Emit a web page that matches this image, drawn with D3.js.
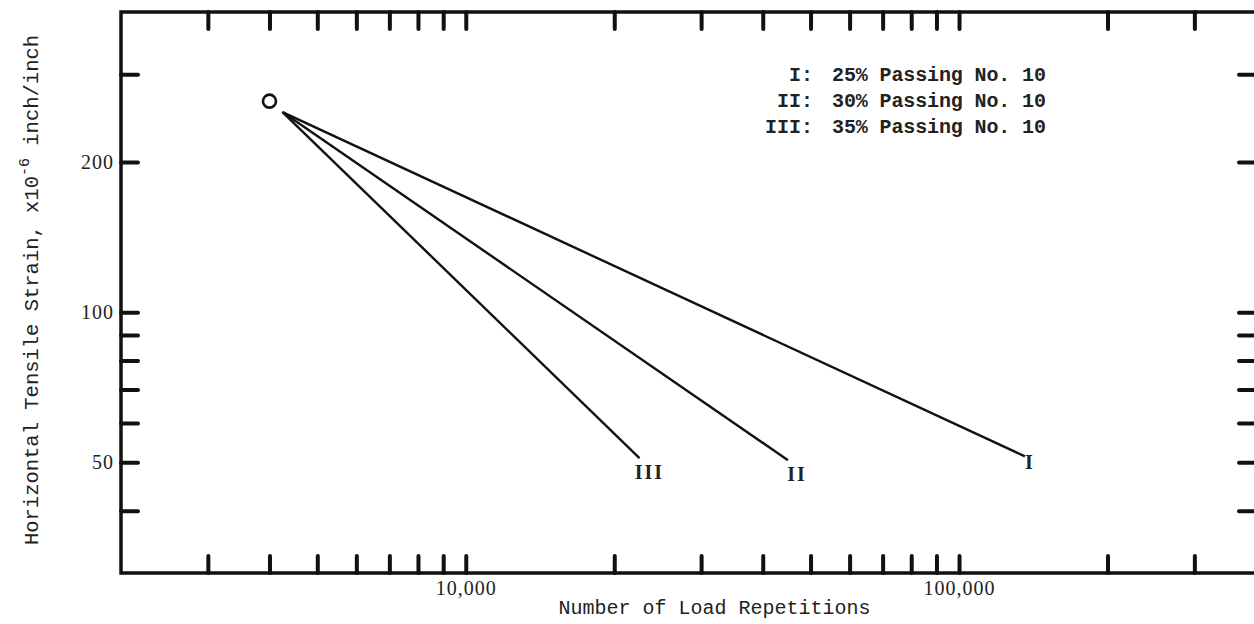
<!DOCTYPE html>
<html>
<head>
<meta charset="utf-8">
<script src="https://cdn.jsdelivr.net/npm/d3@7"></script>
<style>
  html, body { margin: 0; padding: 0; background: #fff; }
  svg { display: block; }
</style>
</head>
<body>
<svg id="chart" width="1254" height="624"></svg>
<script>
// ---- data ----
const xDomain = [2000, 400000];
const yDomain = [30, 400];
const xTickValues = [3000, 4000, 5000, 6000, 7000, 8000, 9000, 10000,
                     20000, 30000, 40000, 50000, 60000, 70000, 80000, 90000, 100000,
                     200000, 300000];
const xTickLabels = { 10000: "10,000", 100000: "100,000" };
const yTickValues = [40, 50, 60, 70, 80, 90, 100, 200, 300];
const yTickLabels = { 50: "50", 100: "100", 200: "200" };

const seriesNames = ["I", "II", "III"];
const startPoint = [4250, 252];          // common start of the lines
const endX = [136000, 45000, 22500];     // load repetitions at end
const endY = [51.4, 50.5, 51];           // strain at end
const circlePoint = [4000, 265];

const legendKeys = ["I:", "II:", "III:"];
const legendTexts = ["25% Passing No. 10", "30% Passing No. 10", "35% Passing No. 10"];

// ---- layout ----
const svg = d3.select("#chart");
const pLeft = 121, pRight = 1256, pTop = 12, pBottom = 573;

const x = d3.scaleLog().domain(xDomain).range([pLeft, pRight]);
const y = d3.scaleLog().domain(yDomain).range([pBottom, pTop]);

const tickLen = 17;

function styleTicks(g) {
  g.select(".domain").remove();
  g.selectAll(".tick line")
    .attr("stroke", "#111")
    .attr("stroke-width", 4)
    .attr("stroke-linecap", "round");
  g.selectAll(".tick text")
    .attr("fill", "#222")
    .style("font-family", "'Liberation Serif', serif")
    .style("font-size", "20px")
    .style("letter-spacing", "1px");
}

// bottom axis
svg.append("g")
  .attr("transform", `translate(0,${pBottom})`)
  .call(d3.axisBottom(x).tickValues(xTickValues)
        .tickSize(-tickLen).tickPadding(8)
        .tickFormat(d => xTickLabels[d] || ""))
  .call(styleTicks);

// top axis
svg.append("g")
  .attr("transform", `translate(0,${pTop})`)
  .call(d3.axisTop(x).tickValues(xTickValues)
        .tickSize(-tickLen).tickFormat(""))
  .call(styleTicks);

// left axis
svg.append("g")
  .attr("transform", `translate(${pLeft},0)`)
  .call(d3.axisLeft(y).tickValues(yTickValues)
        .tickSize(-tickLen).tickPadding(7)
        .tickFormat(d => yTickLabels[d] || ""))
  .call(styleTicks);

// right axis
svg.append("g")
  .attr("transform", `translate(${pRight},0)`)
  .call(d3.axisRight(y).tickValues(yTickValues)
        .tickSize(-tickLen).tickFormat(""))
  .call(styleTicks);

// frame
svg.append("rect")
  .attr("x", pLeft).attr("y", pTop)
  .attr("width", pRight - pLeft).attr("height", pBottom - pTop)
  .attr("fill", "none").attr("stroke", "#111").attr("stroke-width", 3.5);

// lines
seriesNames.forEach((name, i) => {
  svg.append("line")
    .attr("x1", x(startPoint[0])).attr("y1", y(startPoint[1]))
    .attr("x2", x(endX[i])).attr("y2", y(endY[i]))
    .attr("stroke", "#111").attr("stroke-width", 2.4);
});

// circle
svg.append("circle")
  .attr("cx", x(circlePoint[0])).attr("cy", y(circlePoint[1]))
  .attr("r", 6.5)
  .attr("fill", "none").attr("stroke", "#111").attr("stroke-width", 2.6);

// line-end labels
const labelOffsets = [[5, 8], [9, 16], [10, 16]];
seriesNames.forEach((name, i) => {
  svg.append("text")
    .attr("x", x(endX[i]) + labelOffsets[i][0])
    .attr("y", y(endY[i]) + labelOffsets[i][1])
    .attr("text-anchor", "middle")
    .attr("dominant-baseline", "middle")
    .style("font-family", "'Liberation Serif', serif")
    .style("font-weight", "bold")
    .style("font-size", "20px")
    .style("letter-spacing", "2px")
    .attr("fill", "#222")
    .text(name);
});

// legend
const legendG = svg.append("g");
legendKeys.forEach((k, i) => {
  const yy = 81 + i * 26;
  legendG.append("text")
    .attr("x", 813).attr("y", yy)
    .attr("text-anchor", "end")
    .style("font-family", "'Liberation Mono', monospace")
    .style("font-weight", "bold")
    .style("font-size", "20px")
    .attr("fill", "#222")
    .text(k);
  legendG.append("text")
    .attr("x", 832).attr("y", yy)
    .style("font-family", "'Liberation Mono', monospace")
    .style("font-weight", "bold")
    .style("font-size", "20px")
    .attr("textLength", 214)
    .attr("fill", "#222")
    .text(legendTexts[i]);
});

// axis titles
svg.append("text")
  .attr("x", (pLeft + pRight) / 2 + 26).attr("y", 614)
  .attr("text-anchor", "middle")
  .style("font-family", "'Liberation Mono', monospace")
  .style("font-size", "20px")
  .attr("fill", "#222")
  .text("Number of Load Repetitions");

const yt = svg.append("text")
  .attr("transform", "translate(38,290) rotate(-90)")
  .attr("text-anchor", "middle")
  .style("font-family", "'Liberation Mono', monospace")
  .style("font-size", "20.5px")
  .attr("fill", "#222");
yt.append("tspan").text("Horizontal Tensile Strain, x10");
yt.append("tspan").attr("dy", -9).style("font-size", "15px").text("-6");
yt.append("tspan").attr("dy", 9).text(" inch/inch");
</script>
</body>
</html>
